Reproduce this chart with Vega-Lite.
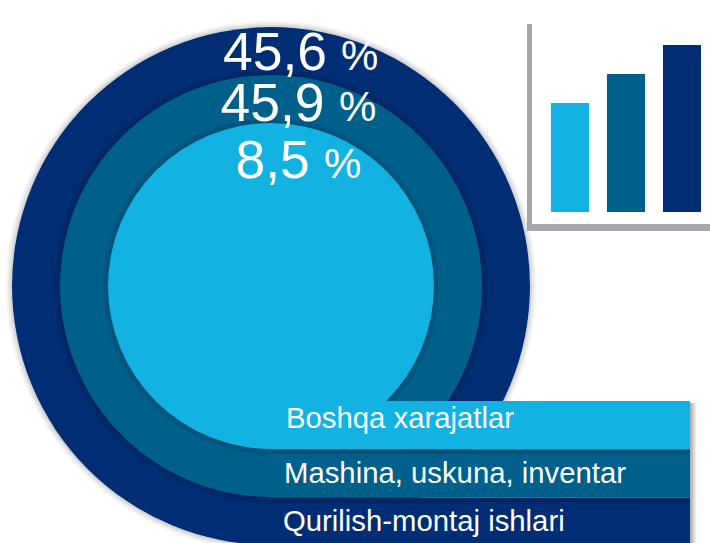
{
"$schema":"https://vega.github.io/schema/vega-lite/v6.json",
"width":710,"height":543,"padding":0,"autosize":{"type":"none"},"background":"white",
"config":{"view":{"stroke":null},"axis":{"disable":true},"legend":{"disable":true}},
"datasets":{
"rows":[
{"item":"Qurilish-montaj ishlari","pct":45.6,"pctText":"45,6","unit":"%","bar":167},
{"item":"Mashina, uskuna, inventar","pct":45.9,"pctText":"45,9","unit":"%","bar":138},
{"item":"Boshqa xarajatlar","pct":8.5,"pctText":"8,5","unit":"%","bar":109}
],
"frame":[{"part":"frame"}]
},
"data":{"name":"rows"},
"resolve":{"scale":{"x":"independent","y":"independent","size":"independent","color":"independent"}},
"layer":[
{"mark":{"type":"point","filled":true,"shape":"circle","opacity":1},
"encoding":{
"x":{"field":"pct","type":"quantitative","scale":{"domain":[8.5,45.9],"range":[271,271],"nice":false}},
"y":{"field":"pct","type":"quantitative","scale":{"domain":[8.5,45.9],"range":[286,286],"nice":false}},
"size":{"field":"pct","type":"quantitative","scale":{"domain":[8.5,45.6,45.9],"range":[106276,268324,178084],"zero":false,"nice":false}},
"color":{"field":"item","type":"nominal","scale":{"domain":["Boshqa xarajatlar","Mashina, uskuna, inventar","Qurilish-montaj ishlari"],"range":["#12B2E2","#00608C","#012D75"]}}
}},
{"mark":{"type":"point","filled":false,"shape":"circle","stroke":"#000000","strokeWidth":2,"opacity":0.16},
"encoding":{
"x":{"field":"pct","type":"quantitative","scale":{"domain":[8.5,45.9],"range":[271,271],"nice":false}},
"y":{"field":"pct","type":"quantitative","scale":{"domain":[8.5,45.9],"range":[286,286],"nice":false}},
"size":{"field":"pct","type":"quantitative","scale":{"domain":[8.5,45.6,45.9],"range":[107584,270400,179776],"zero":false,"nice":false}}
}},
{"mark":{"type":"point","filled":false,"shape":"circle","stroke":"#000000","strokeWidth":2,"opacity":0.09},
"encoding":{
"x":{"field":"pct","type":"quantitative","scale":{"domain":[8.5,45.9],"range":[271,271],"nice":false}},
"y":{"field":"pct","type":"quantitative","scale":{"domain":[8.5,45.9],"range":[286,286],"nice":false}},
"size":{"field":"pct","type":"quantitative","scale":{"domain":[8.5,45.6,45.9],"range":[110224,274576,183184],"zero":false,"nice":false}}
}},
{"mark":{"type":"point","filled":false,"shape":"circle","stroke":"#000000","strokeWidth":2,"opacity":0.04},
"encoding":{
"x":{"field":"pct","type":"quantitative","scale":{"domain":[8.5,45.9],"range":[271,271],"nice":false}},
"y":{"field":"pct","type":"quantitative","scale":{"domain":[8.5,45.9],"range":[286,286],"nice":false}},
"size":{"field":"pct","type":"quantitative","scale":{"domain":[8.5,45.6,45.9],"range":[112896,278784,186624],"zero":false,"nice":false}}
}},
{"data":{"name":"frame"},
"mark":{"type":"rect","color":{"gradient":"linear","x1":0,"y1":0,"x2":1,"y2":0,"stops":[{"offset":0,"color":"rgba(0,0,0,0.35)"},{"offset":1,"color":"rgba(0,0,0,0)"}]}},
"encoding":{
"x":{"datum":0,"type":"quantitative","scale":{"domain":[0,1],"range":[690,697],"nice":false}},"x2":{"datum":1},
"y":{"datum":0,"type":"quantitative","scale":{"domain":[0,1],"range":[403,546],"nice":false}},"y2":{"datum":1}
}},
{"mark":{"type":"rect"},
"encoding":{
"x":{"datum":0,"type":"quantitative","scale":{"domain":[0,1],"range":[271,690],"nice":false}},"x2":{"datum":1},
"y":{"field":"item","type":"nominal","scale":{"domain":["Boshqa xarajatlar","Mashina, uskuna, inventar","Qurilish-montaj ishlari"],"range":[401,546],"paddingInner":0,"paddingOuter":0}},
"color":{"field":"item","type":"nominal","scale":{"domain":["Boshqa xarajatlar","Mashina, uskuna, inventar","Qurilish-montaj ishlari"],"range":["#12B2E2","#00608C","#012D75"]}}
}},
{"transform":[{"filter":"datum.pct > 9"}],
"mark":{"type":"rect","color":{"gradient":"linear","x1":0,"y1":0,"x2":0,"y2":1,"stops":[{"offset":0,"color":"rgba(0,0,0,0.25)"},{"offset":0.14,"color":"rgba(0,0,0,0)"},{"offset":1,"color":"rgba(0,0,0,0)"}]}},
"encoding":{
"x":{"datum":0,"type":"quantitative","scale":{"domain":[0,1],"range":[271,690],"nice":false}},"x2":{"datum":1},
"y":{"field":"item","type":"nominal","scale":{"domain":["Boshqa xarajatlar","Mashina, uskuna, inventar","Qurilish-montaj ishlari"],"range":[401,546],"paddingInner":0,"paddingOuter":0}}
}},
{"data":{"name":"frame"},"mark":{"type":"rect","color":"#A7A6AB"},
"encoding":{
"x":{"datum":0,"type":"quantitative","scale":{"domain":[0,1],"range":[527,532],"nice":false}},"x2":{"datum":1},
"y":{"datum":0,"type":"quantitative","scale":{"domain":[0,1],"range":[24,231],"nice":false}},"y2":{"datum":1}
}},
{"data":{"name":"frame"},"mark":{"type":"rect","color":"#A7A6AB"},
"encoding":{
"x":{"datum":0,"type":"quantitative","scale":{"domain":[0,1],"range":[527,710],"nice":false}},"x2":{"datum":1},
"y":{"datum":0,"type":"quantitative","scale":{"domain":[0,1],"range":[224,231],"nice":false}},"y2":{"datum":1}
}},
{"mark":{"type":"bar"},
"encoding":{
"x":{"field":"item","type":"nominal","scale":{"domain":["Boshqa xarajatlar","Mashina, uskuna, inventar","Qurilish-montaj ishlari"],"range":[551,701],"paddingInner":0.3214,"paddingOuter":0}},
"y":{"field":"bar","type":"quantitative","scale":{"domain":[0,167],"range":[212,45],"nice":false}},
"color":{"field":"item","type":"nominal","scale":{"domain":["Boshqa xarajatlar","Mashina, uskuna, inventar","Qurilish-montaj ishlari"],"range":["#12B2E2","#00608C","#012D75"]}}
}},
{"mark":{"type":"text","align":"left","baseline":"alphabetic","font":"Liberation Sans","fontSize":53.5,"color":"white"},
"encoding":{
"text":{"field":"pctText"},
"x":{"field":"pct","type":"quantitative","scale":{"domain":[8.5,45.6,45.9],"range":[235.5,223,220.5],"nice":false}},
"y":{"field":"pct","type":"quantitative","scale":{"domain":[8.5,45.6,45.9],"range":[178,70,121],"nice":false}}
}},
{"mark":{"type":"text","align":"left","baseline":"alphabetic","font":"Liberation Sans","fontSize":42,"color":"white"},
"encoding":{
"text":{"field":"unit"},
"x":{"field":"pct","type":"quantitative","scale":{"domain":[8.5,45.6,45.9],"range":[324,341,339],"nice":false}},
"y":{"field":"pct","type":"quantitative","scale":{"domain":[8.5,45.6,45.9],"range":[178,70,121],"nice":false}}
}},
{"mark":{"type":"text","align":"left","baseline":"alphabetic","font":"Liberation Sans","fontSize":29.3,"color":"white"},
"encoding":{
"text":{"field":"item"},
"x":{"field":"pct","type":"quantitative","scale":{"domain":[8.5,45.6,45.9],"range":[286,283,284],"nice":false}},
"y":{"field":"pct","type":"quantitative","scale":{"domain":[8.5,45.6,45.9],"range":[428,531,483],"nice":false}}
}}
]
}
